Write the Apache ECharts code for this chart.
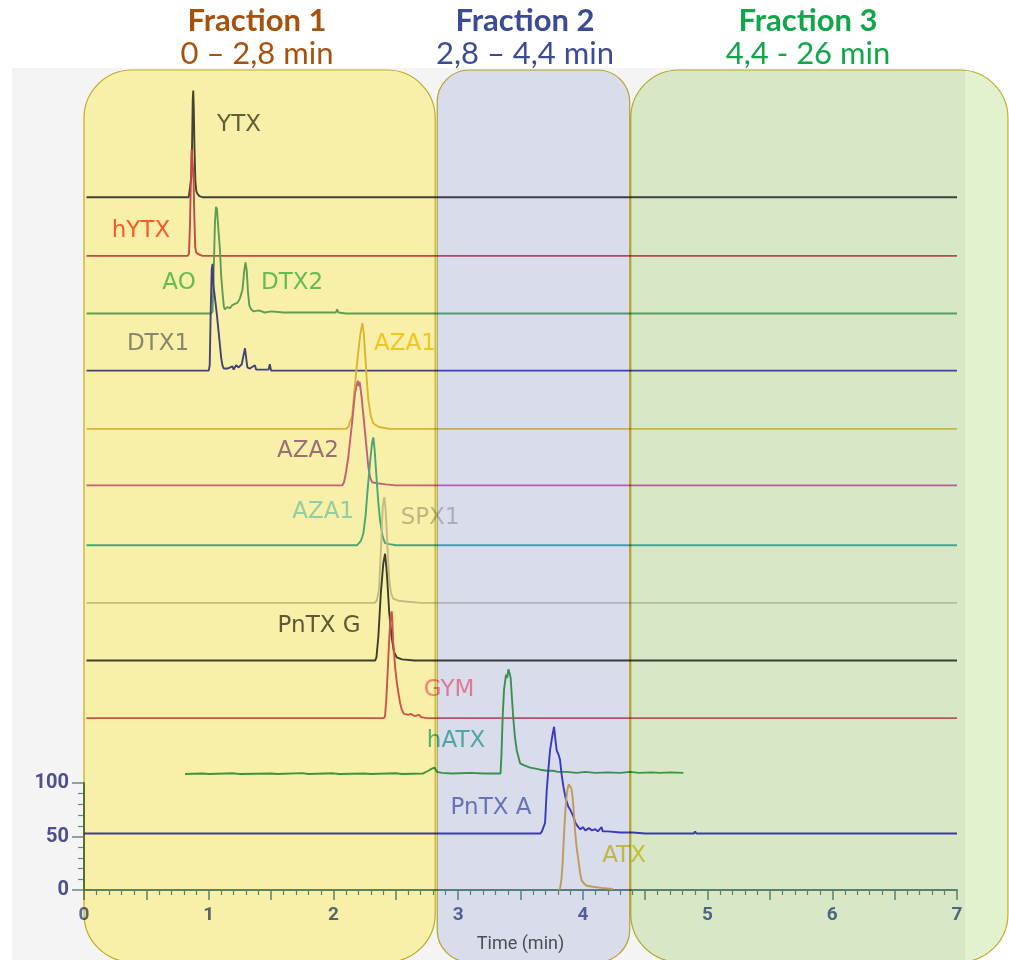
<!DOCTYPE html>
<html><head><meta charset="utf-8">
<script src="https://cdn.jsdelivr.net/npm/echarts@6/dist/echarts.min.js"></script>
<style>html,body{margin:0;padding:0;background:#fff;}#c{width:1009px;height:960px;}</style>
</head><body><div id="c"></div>
<script>
// ---------------- DATA ----------------
const seriesNames = ['YTX','hYTX','AO / DTX2','DTX1','AZA1','AZA2','AZA1 (2)','SPX1','PnTX G','GYM','hATX','PnTX A','ATX'];
// vertical offset of each stacked trace (intensity units)
const baselineOffsets = [649, 594, 540, 486.5, 432, 379, 323, 269, 215, 161, 108.7, 52.9, 0];
// traces: [time (min), relative intensity]
const traceYTX = [[0.02,0],[0.84,0],[0.852,1],[0.862,20],[0.868,60],[0.872,92],[0.876,100],[0.88,85],[0.886,45],[0.893,15],[0.9,6],[0.91,3],[0.925,1],[0.95,0],[1.36,0],[1.37,1],[1.38,0],[7,0]];
const traceHYTX = [[0.02,0],[0.83,0],[0.842,2],[0.85,30],[0.857,72],[0.863,100],[0.872,101],[0.878,75],[0.885,35],[0.892,8],[0.9,3],[0.915,2],[0.93,1],[0.95,0],[7,0]];
const traceAO = [[0.02,0],[1.02,0],[1.031,2],[1.04,40],[1.05,85],[1.058,100],[1.066,98],[1.072,88],[1.08,75],[1.09,60],[1.1,35],[1.112,18],[1.122,6],[1.13,4],[1.15,6],[1.17,5],[1.19,8],[1.21,9],[1.23,10],[1.25,14],[1.27,22],[1.285,40],[1.295,48],[1.305,40],[1.315,20],[1.325,8],[1.34,4],[1.36,2],[1.4,3],[1.45,1],[1.5,2],[1.6,1],[1.8,1],[2.02,1],[2.03,4],[2.04,1],[2.1,0],[7,0]];
const traceDTX1 = [[0.02,0],[1.0,0],[1.008,5],[1.016,55],[1.024,95],[1.031,100],[1.038,80],[1.046,72],[1.056,62],[1.066,52],[1.078,38],[1.09,24],[1.1,12],[1.11,5],[1.12,2],[1.15,2],[1.19,4],[1.2,1],[1.22,5],[1.24,3],[1.265,6],[1.28,15],[1.291,21],[1.3,12],[1.31,3],[1.33,2],[1.37,5],[1.38,1],[1.42,1],[1.48,1],[1.49,6],[1.5,0],[7,0]];
const traceAZA1 = [[0.02,0],[2.1,0],[2.12,2],[2.13,6],[2.15,12],[2.173,42],[2.2,73],[2.215,88],[2.232,99],[2.245,88],[2.254,70],[2.268,45],[2.28,27],[2.3,12],[2.32,5],[2.36,2],[2.4,1],[2.45,0],[7,0]];
const traceAZA2 = [[0.02,0],[2.07,0],[2.085,3],[2.1,12],[2.12,27],[2.146,55],[2.173,86],[2.186,94],[2.196,98],[2.203,93],[2.21,97],[2.226,83],[2.24,66],[2.254,49],[2.268,32],[2.28,17],[2.295,7],[2.31,3],[2.35,2],[2.42,1],[2.5,0],[7,0]];
const traceAZA1b = [[0.02,0],[2.19,0],[2.2,1],[2.22,4],[2.24,11],[2.258,28],[2.272,49],[2.293,77],[2.31,96],[2.32,101],[2.33,90],[2.347,61],[2.36,40],[2.374,23],[2.395,8],[2.414,2],[2.45,1],[2.5,0],[7,0]];
const traceSPX1 = [[0.02,0],[2.33,0],[2.347,2],[2.365,12],[2.382,52],[2.395,90],[2.408,99],[2.418,88],[2.427,68],[2.438,42],[2.448,21],[2.462,9],[2.48,4],[2.52,2],[2.6,1],[2.7,0],[7,0]];
const tracePnTXG = [[0.02,0],[2.335,0],[2.345,3],[2.36,22],[2.38,63],[2.4,91],[2.414,100],[2.424,88],[2.432,75],[2.448,44],[2.467,22],[2.485,8],[2.507,3],[2.55,1],[2.65,0],[7,0]];
const traceGYM = [[0.02,0],[2.405,0],[2.414,2],[2.424,18],[2.432,36],[2.448,76],[2.459,95],[2.467,100],[2.472,92],[2.478,72],[2.486,62],[2.494,48],[2.508,34],[2.52,24],[2.535,14],[2.548,8],[2.565,4],[2.58,5],[2.6,3],[2.62,4],[2.65,2],[2.69,3],[2.7,1],[2.75,0],[7,0]];
const traceHATX = [[0.81,0],[0.95,0.5],[1.0,0],[1.2,0.6],[1.25,0],[1.5,0.5],[1.55,0],[1.75,0.8],[1.8,0],[2.0,0.6],[2.05,0],[2.25,0.5],[2.3,0],[2.5,0.7],[2.55,0],[2.72,0.5],[2.76,3],[2.79,5],[2.81,6],[2.83,2],[2.87,1],[2.95,0.5],[3.1,1],[3.2,0.5],[3.34,0.5],[3.348,20],[3.357,54],[3.368,79],[3.384,93],[3.393,90],[3.403,98],[3.413,94],[3.421,90],[3.432,70],[3.443,51],[3.455,35],[3.47,22],[3.497,10],[3.53,8],[3.577,6],[3.62,5],[3.66,4],[3.71,3],[3.76,3],[3.8,2],[3.87,2],[3.95,1],[4.02,2],[4.1,1],[4.2,1.5],[4.3,1],[4.38,2],[4.45,1],[4.55,1.5],[4.62,1],[4.7,1.5],[4.806,1]];
const tracePnTXA = [[0,0],[3.66,0],[3.672,2],[3.697,10],[3.71,40],[3.725,62],[3.737,78],[3.753,90],[3.769,100],[3.78,88],[3.79,78],[3.805,74],[3.817,69],[3.83,55],[3.844,44],[3.862,33],[3.884,25],[3.9,22],[3.924,16],[3.94,10],[3.964,6],[3.98,4],[4.0,6],[4.02,3],[4.05,5],[4.07,3],[4.1,4],[4.12,2],[4.15,6],[4.16,2],[4.2,2],[4.3,1],[4.4,1],[4.5,0],[4.65,0],[4.66,1],[4.67,0],[4.89,0],[4.9,2],[4.91,0],[7,0]];
const traceATX = [[3.81,0],[3.818,2],[3.828,10],[3.838,25],[3.847,48],[3.857,69],[3.866,84],[3.876,94],[3.887,99],[3.897,100],[3.908,95],[3.918,87],[3.928,72],[3.937,56],[3.95,40],[3.964,28],[3.978,16],[3.99,9],[4.01,6],[4.03,4],[4.08,3],[4.15,2],[4.24,1]];
const traces = [traceYTX,traceHYTX,traceAO,traceDTX1,traceAZA1,traceAZA2,traceAZA1b,traceSPX1,tracePnTXG,traceGYM,traceHATX,tracePnTXA,traceATX];

const peakLabels = ['YTX','hYTX','AO','DTX2','DTX1','AZA1','AZA2','AZA1','SPX1','PnTX G','GYM','hATX','PnTX A','ATX'];
const xTickLabels = [0,1,2,3,4,5,6,7];
const yTickLabels = [0,50,100];
const fractionNames = ['Fraction 1','Fraction 2','Fraction 3'];
const fractionRanges = ['0 – 2,8 min','2,8 – 4,4 min','4,4 - 26 min'];
const fractionBounds = [[0,2.8],[2.8,4.4],[4.4,26]];

// ---------------- LAYOUT / STYLE ----------------
const lineColors = ['#464648','#c4506a','#60a878','#4446b8','#e0c050','#c865b8','#48b2b7','#c8c8c8','#404040','#cf596c','#41a053','#4040c8','#d8aa60'];
const labelColors = ['#3f3d28','#ff3a10','#44bc54','#44bc54','#6f7390','#f5c800','#8a52a0','#80d0f0','#b3b4b8','#3a3520','#fc6b85','#2faa96','#5364b0','#cfc022'];
const labelAnchors = [[1.243,716.6],[0.457,617.3],[0.762,568.6],[1.668,568.6],[0.593,511.5],[2.574,511.5],[1.796,411.2],[1.917,354.1],[2.775,348.5],[1.885,247.3],[2.927,187.4],[2.983,139.6],[3.264,76.8],[4.33,31.9]];
const fractionTitleColors = ['#a5520f','#3b4c94','#11a64a'];
const fractionTitleX = [257, 525, 808];
const fractionKnockout = [true, false, false];
const fractionFill = ['#f8f0a8','#e3e6f5','#e2f2ce'];
const fractionRadius = [48, 32, 48];
const axisColor = '#628a86';
const FONT = 'Lato, "Open Sans", sans-serif';
const LABEL_FONT = '"DejaVu Sans", sans-serif';

const chart = echarts.init(document.getElementById('c'), null, {renderer:'canvas'});

const lineSeries = traces.map((tr, i) => ({
  name: seriesNames[i], type: 'line', xAxisIndex: 0, yAxisIndex: 0,
  data: tr.map(p => [p[0], p[1] + baselineOffsets[i]]),
  showSymbol: false, symbol: 'none', smooth: false, clip: false,
  lineStyle: {color: lineColors[i], width: 1.9},
  itemStyle: {color: lineColors[i]}, silent: true, z: 2
}));

const labelSeries = {
  type: 'scatter', xAxisIndex: 0, yAxisIndex: 0, symbolSize: 0, silent: true, z: 3,
  data: peakLabels.map((t, i) => ({
    value: [labelAnchors[i][0], labelAnchors[i][1]],
    label: {show: true, position: 'inside', formatter: t, color: labelColors[i],
            fontSize: 23, fontFamily: LABEL_FONT, fontWeight: 'normal'}
  }))
};

chart.setOption({
  backgroundColor: '#ffffff',
  animation: false,
  grid: [
    {left: 84, right: 52, top: 36, bottom: 70, outerBoundsMode: 'none', containLabel: false},
    {left: 84, right: 52, top: 783, bottom: 70, outerBoundsMode: 'none', containLabel: false}
  ],
  xAxis: [
    {gridIndex: 0, type: 'value', min: 0, max: xTickLabels[xTickLabels.length-1], interval: 0.5,
     axisLine: {show: true, onZero: false, lineStyle: {color: axisColor, width: 2}},
     axisTick: {show: true, length: 10, lineStyle: {color: axisColor, width: 1.5}},
     minorTick: {show: true, splitNumber: 5, length: 5, lineStyle: {color: axisColor, width: 1.2}},
     splitLine: {show: false}, minorSplitLine: {show: false},
     axisLabel: {margin: 16, color: '#5b6aa0', fontSize: 19, fontWeight: 'bold', fontFamily: 'Roboto, sans-serif',
                 formatter: v => (xTickLabels.indexOf(v) >= 0 ? String(v) : '')},
     name: 'Time (min)', nameLocation: 'middle', nameGap: 45,
     nameTextStyle: {color: '#555555', fontSize: 18, fontFamily: 'Roboto, sans-serif'}},
    {gridIndex: 1, type: 'value', min: 0, max: 7, show: false}
  ],
  yAxis: [
    {gridIndex: 0, type: 'value', min: 0, max: 800, show: false},
    {gridIndex: 1, type: 'value', min: yTickLabels[0], max: yTickLabels[yTickLabels.length-1], interval: 50,
     axisLine: {show: true, lineStyle: {color: axisColor, width: 2}},
     axisTick: {show: true, length: 12, lineStyle: {color: axisColor, width: 1.5}},
     minorTick: {show: true, splitNumber: 5, length: 6, lineStyle: {color: axisColor, width: 1.2}},
     splitLine: {show: false}, minorSplitLine: {show: false},
     axisLabel: {margin: 15, color: '#4d4f8f', fontSize: 20, fontWeight: 'bold', fontFamily: 'Roboto, sans-serif'}}
  ],
  series: lineSeries.concat([labelSeries])
});

// fraction boxes and titles (positioned from the x scale)
const px = v => chart.convertToPixel({xAxisIndex: 0}, v);
const boxX = [
  [px(fractionBounds[0][0]), px(fractionBounds[0][1]) + 2],
  [px(fractionBounds[1][0]) + 4, px(fractionBounds[1][1]) - 3],
  [px(fractionBounds[2][0]) - 2, 1008]
];
const graphics = [
  {type: 'rect', z: -10, silent: true, shape: {x: 12, y: 68, width: 953, height: 892}, style: {fill: '#f4f4f4'}}
];
boxX.forEach((b, i) => {
  const shape = {x: b[0], y: 70, width: b[1] - b[0], height: 892, r: fractionRadius[i]};
  if (fractionKnockout[i]) {
    graphics.push({type: 'rect', z: -5, silent: true, shape: Object.assign({}, shape), style: {fill: '#ffffff'}});
  }
  graphics.push({type: 'rect', z: 100, silent: true, shape: shape,
    style: {fill: fractionFill[i], stroke: '#c9b52e', lineWidth: 1.2, blend: 'multiply'}});
});
fractionNames.forEach((n, i) => {
  graphics.push({type: 'text', z: 110, silent: true, x: fractionTitleX[i], y: 21,
    style: {text: n, fill: fractionTitleColors[i], font: 'bold 31px ' + FONT,
            textAlign: 'center', align: 'center', textVerticalAlign: 'middle', verticalAlign: 'middle'}});
  graphics.push({type: 'text', z: 110, silent: true, x: fractionTitleX[i], y: 54,
    style: {text: fractionRanges[i], fill: fractionTitleColors[i], font: '31px ' + FONT,
            textAlign: 'center', align: 'center', textVerticalAlign: 'middle', verticalAlign: 'middle'}});
});
chart.setOption({graphic: graphics});
</script>
</body></html>
